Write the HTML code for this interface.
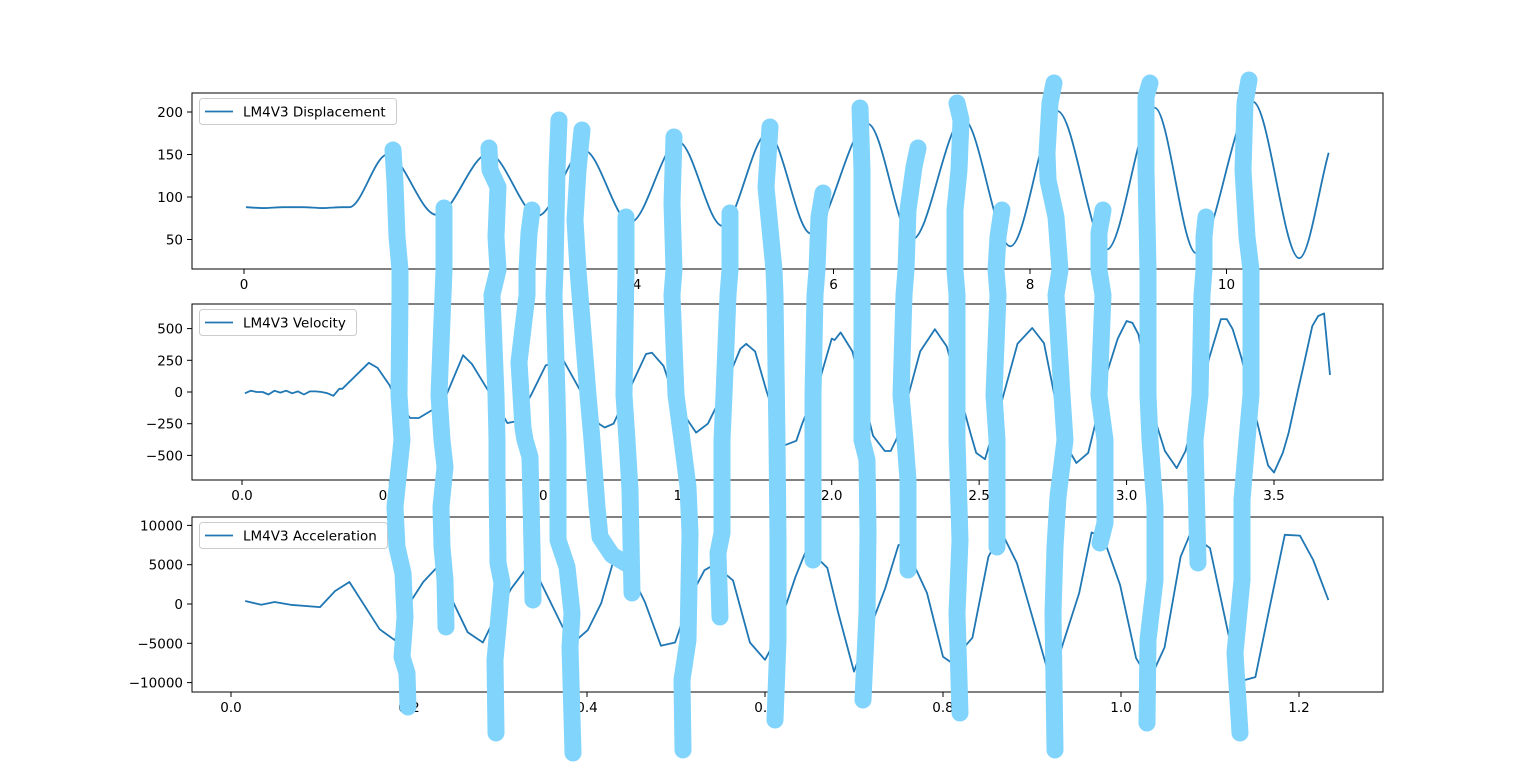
<!DOCTYPE html>
<html>
<head>
<meta charset="utf-8">
<style>
  html,body{margin:0;padding:0;background:#fff;}
  svg{display:block;}
  text{font-family:"DejaVu Sans","Liberation Sans",sans-serif;font-size:13.5px;fill:#000;}
</style>
</head>
<body>
<svg id="fig" width="1536" height="776" viewBox="0 0 1536 776" xmlns="http://www.w3.org/2000/svg"></svg>
<script>
// ---------- Displacement data ----------
const dispT = [0.02,0.2,0.4,0.6,0.8,1.0,1.07,1.46,1.96,2.49,2.99,3.46,3.93,4.42,4.87,5.33,5.77,6.35,6.80,7.32,7.80,8.28,8.78,9.27,9.69,10.27,10.74,11.04];
const dispV = [88,87,88,88,87,88,88,150,79,151,78,155,70,165,66,175,57,186,50,192,42,201,38,205,34,212,28,152];
const dispXTicks = [0,2,4,6,8,10];
const dispYTicks = [50,100,150,200];

// ---------- Velocity data ----------
const velT = [0.01,0.03,0.05,0.07,0.09,0.11,0.13,0.15,0.17,0.19,0.21,0.23,0.25,0.27,0.29,0.31,0.33,0.34,0.43,0.46,0.50,0.52,0.57,0.60,0.65,0.69,0.75,0.78,0.83,0.90,0.93,0.98,1.03,1.09,1.15,1.21,1.23,1.26,1.33,1.37,1.39,1.43,1.47,1.54,1.58,1.61,1.69,1.71,1.74,1.78,1.84,1.88,1.90,1.96,2.00,2.01,2.03,2.07,2.14,2.18,2.20,2.22,2.30,2.35,2.39,2.47,2.49,2.52,2.57,2.63,2.68,2.72,2.76,2.81,2.83,2.87,2.89,2.93,2.97,3.00,3.02,3.04,3.10,3.13,3.17,3.20,3.28,3.32,3.34,3.36,3.39,3.46,3.48,3.50,3.53,3.55,3.58,3.60,3.63,3.65,3.67,3.69];
const velV = [-10,10,0,0,-20,10,-5,10,-10,5,-20,5,5,0,-10,-30,25,25,230,190,55,-50,-205,-205,-135,-40,290,220,30,-245,-230,-25,210,250,0,-250,-280,-250,100,300,310,205,-80,-320,-250,-110,340,380,320,0,-420,-385,-250,100,420,410,470,320,-345,-465,-465,-370,320,495,360,-320,-480,-530,-130,380,505,385,-80,-480,-560,-480,-290,125,420,560,545,455,-245,-465,-600,-465,265,575,575,495,265,-400,-580,-635,-480,-320,0,205,520,600,620,135];
const velXTicks = [0.0,0.5,1.0,1.5,2.0,2.5,3.0,3.5];
const velYTicks = [-500,-250,0,250,500];

// ---------- Acceleration data ----------
const accT = [0.016,0.034,0.049,0.067,0.10,0.117,0.133,0.167,0.184,0.20,0.216,0.231,0.266,0.283,0.298,0.315,0.333,0.347,0.373,0.386,0.401,0.416,0.429,0.44,0.465,0.483,0.499,0.517,0.532,0.543,0.564,0.583,0.600,0.609,0.621,0.634,0.645,0.661,0.670,0.682,0.700,0.711,0.735,0.750,0.757,0.782,0.800,0.809,0.833,0.851,0.866,0.883,0.919,0.927,0.953,0.967,0.980,0.999,1.017,1.032,1.049,1.067,1.078,1.100,1.124,1.138,1.151,1.166,1.184,1.201,1.216,1.233];
const accV = [380,-100,250,-100,-400,1650,2800,-3200,-4600,0,2800,4600,-3600,-4900,-1400,2000,4700,3000,-3000,-4800,-3300,100,5200,6000,250,-5300,-4900,1100,4300,5000,3000,-4900,-7100,-5200,-1000,3400,6500,5600,4600,-1000,-8600,-5200,2000,7500,7500,1400,-6700,-7400,-4300,6000,9100,5200,-9000,-7800,1400,9100,8500,2400,-6900,-9700,-5500,6000,9000,7100,-5600,-9700,-9300,-1000,8800,8700,5600,500];
const accXTicks = [0.0,0.2,0.4,0.6,0.8,1.0,1.2];
const accYTicks = [-10000,-5000,0,5000,10000];

// ---------- Overlay scribble strokes (pixel traces of hand-drawn marks) ----------
const scribbles = [
 [[393,150],[395,183],[397,237],[400,270],[400,295],[399,395],[402,440],[395,507],[397,547],[403,573],[405,617],[402,657],[407,673],[408,707]],
 [[444,208],[444,270],[443,295],[439,395],[442,440],[445,467],[441,507],[442,547],[445,580],[446,627]],
 [[489,148],[490,170],[498,187],[496,237],[498,270],[492,295],[496,395],[497,440],[497,473],[498,563],[502,583],[498,627],[495,660],[496,733]],
 [[532,210],[529,233],[527,270],[527,295],[519,362],[523,428],[525,440],[530,457],[532,547],[533,600]],
 [[559,120],[557,170],[555,270],[554,295],[557,395],[558,440],[558,540],[567,567],[572,613],[570,647],[573,753]],
 [[582,130],[578,170],[575,220],[578,270],[580,295],[588,395],[592,440],[597,507],[600,537],[612,555],[627,564]],
 [[626,217],[626,270],[624,395],[627,440],[630,490],[632,593]],
 [[674,137],[672,203],[674,270],[672,295],[676,395],[682,440],[688,487],[690,533],[688,640],[682,680],[683,750]],
 [[730,213],[730,270],[728,295],[724,395],[722,440],[722,533],[718,553],[720,617]],
 [[770,127],[766,187],[774,270],[775,295],[777,440],[778,540],[778,640],[775,720]],
 [[823,193],[819,217],[817,270],[815,295],[813,395],[813,440],[813,560]],
 [[860,108],[862,170],[862,270],[862,395],[862,440],[867,460],[868,533],[867,613],[863,700]],
 [[918,148],[914,167],[908,210],[906,270],[904,295],[901,395],[905,440],[908,480],[908,570]],
 [[957,103],[961,120],[959,170],[955,210],[955,270],[957,295],[957,395],[957,440],[960,540],[957,613],[960,713]],
 [[1002,210],[998,237],[996,270],[998,295],[994,395],[997,440],[997,547]],
 [[1054,83],[1050,103],[1047,153],[1048,180],[1056,217],[1060,270],[1056,295],[1062,395],[1065,440],[1058,497],[1055,547],[1053,613],[1055,750]],
 [[1103,210],[1099,233],[1099,270],[1103,295],[1099,395],[1105,440],[1105,523],[1100,543]],
 [[1150,83],[1146,97],[1146,170],[1148,270],[1148,295],[1148,395],[1150,440],[1155,507],[1155,580],[1148,640],[1147,723]],
 [[1206,217],[1204,237],[1204,270],[1202,295],[1200,395],[1195,440],[1197,523],[1198,563]],
 [[1249,80],[1245,103],[1243,170],[1247,237],[1251,270],[1251,295],[1251,395],[1247,440],[1242,500],[1242,580],[1235,653],[1240,733]]
];

const NS = "http://www.w3.org/2000/svg";
const svg = document.getElementById("fig");
const LINE = "#1f77b4";

function mk(tag, attrs, parent){
  const e = document.createElementNS(NS, tag);
  for (const k in attrs) e.setAttribute(k, attrs[k]);
  (parent || svg).appendChild(e);
  return e;
}
function lin(d0,d1,r0,r1){ return v => r0 + (v-d0)/(d1-d0)*(r1-r0); }
function fmtMinus(s){ return String(s).replace("-","\u2212"); }

// monotone cubic (Fritsch-Carlson) path
function monotonePath(xs, ys){
  const n = xs.length, d=[], m=new Array(n);
  for(let i=0;i<n-1;i++) d.push((ys[i+1]-ys[i])/(xs[i+1]-xs[i]));
  m[0]=d[0]; m[n-1]=d[n-2];
  for(let i=1;i<n-1;i++){
    if(d[i-1]*d[i]<=0) m[i]=0;
    else { const w1=2*(xs[i+1]-xs[i])+(xs[i]-xs[i-1]), w2=(xs[i+1]-xs[i])+2*(xs[i]-xs[i-1]);
      m[i]=(w1+w2)/(w1/d[i-1]+w2/d[i]); }
  }
  let p = "M"+xs[0]+","+ys[0];
  for(let i=0;i<n-1;i++){
    const h=xs[i+1]-xs[i];
    p += " C"+(xs[i]+h/3)+","+(ys[i]+m[i]*h/3)+" "+(xs[i+1]-h/3)+","+(ys[i+1]-m[i+1]*h/3)+" "+xs[i+1]+","+ys[i+1];
  }
  return p;
}

function panel(cfg){
  const g = mk("g", {});
  
  
  const sx = cfg.sx, sy = cfg.sy;

  // x ticks
  cfg.xticks.forEach(t => {
    const x = sx(t);
    const tk = mk("line", {x1:x, x2:x, y1:cfg.bottom, y2:cfg.bottom+5, stroke:"#000","stroke-width":1}, g);
    
    
    const tl = mk("text", {x:x, y:cfg.bottom+20, "text-anchor":"middle"}, g);
    tl.textContent = cfg.xfmt(t);
    
    
  });
  // y ticks
  cfg.yticks.forEach(v => {
    const y = sy(v);
    const tk = mk("line", {x1:cfg.left-5, x2:cfg.left, y1:y, y2:y, stroke:"#000","stroke-width":1}, g);
    
    
    const tl = mk("text", {x:cfg.left-9, y:y+5, "text-anchor":"end"}, g);
    tl.textContent = fmtMinus(v);
    
    
  });

  // series
  let d;
  if (cfg.smooth) {
    d = monotonePath(cfg.t.map(sx), cfg.v.map(sy));
  } else {
    d = cfg.t.map((t,i)=>(i?"L":"M")+sx(t).toFixed(1)+","+sy(cfg.v[i]).toFixed(1)).join(" ");
  }
  const ln = mk("path", {d:d, fill:"none", stroke:LINE, "stroke-width":1.8, "stroke-linejoin":"round"}, g);
  
  

  // frame
  const fr = mk("rect", {x:cfg.left, y:cfg.top, width:cfg.right-cfg.left, height:cfg.bottom-cfg.top, fill:"none", stroke:"#000","stroke-width":1}, g);
  
  

  // legend
  const lg = mk("g", {}, g);
  
  
  const lb = mk("rect", {x:cfg.left+7.5, y:cfg.top+5.5, width:cfg.legendW, height:26, rx:3, fill:"#fff", "fill-opacity":0.8, stroke:"#ccc","stroke-width":1}, lg);
  
  
  const ll = mk("line", {x1:cfg.left+13, x2:cfg.left+41, y1:cfg.top+18.5, y2:cfg.top+18.5, stroke:LINE, "stroke-width":1.8}, lg);
  
  
  const lt = mk("text", {x:cfg.left+51, y:cfg.top+23.5}, lg);
  lt.textContent = cfg.label;
  
  
}

panel({name:"displacement", left:192, right:1383, top:93, bottom:269,
  sx: lin(0,10,244,1226.5), sy: lin(100,200,197,112),
  xticks: dispXTicks, yticks: dispYTicks, xfmt: t=>String(t),
  t: dispT, v: dispV, smooth:true, label:"LM4V3 Displacement", legendW:197});

panel({name:"velocity", left:192, right:1383, top:304, bottom:480,
  sx: lin(0,3.5,242,1274), sy: lin(0,500,392,328.6),
  xticks: velXTicks, yticks: velYTicks, xfmt: t=>t.toFixed(1),
  t: velT, v: velV, smooth:false, label:"LM4V3 Velocity", legendW:157});

panel({name:"acceleration", left:192, right:1383, top:517, bottom:692,
  sx: lin(0,1.2,231,1299), sy: lin(0,10000,604,525.4),
  xticks: accXTicks, yticks: accYTicks, xfmt: t=>t.toFixed(1),
  t: accT, v: accV, smooth:false, label:"LM4V3 Acceleration", legendW:188});

// scribble overlay
const og = mk("g", {});


scribbles.forEach(pts => {
  const p = mk("polyline", {points: pts.map(q=>q.join(",")).join(" "), fill:"none", stroke:"#81d4fc", "stroke-width":17, "stroke-linecap":"round", "stroke-linejoin":"round"}, og);
  
  
});
</script>
</body>
</html>
